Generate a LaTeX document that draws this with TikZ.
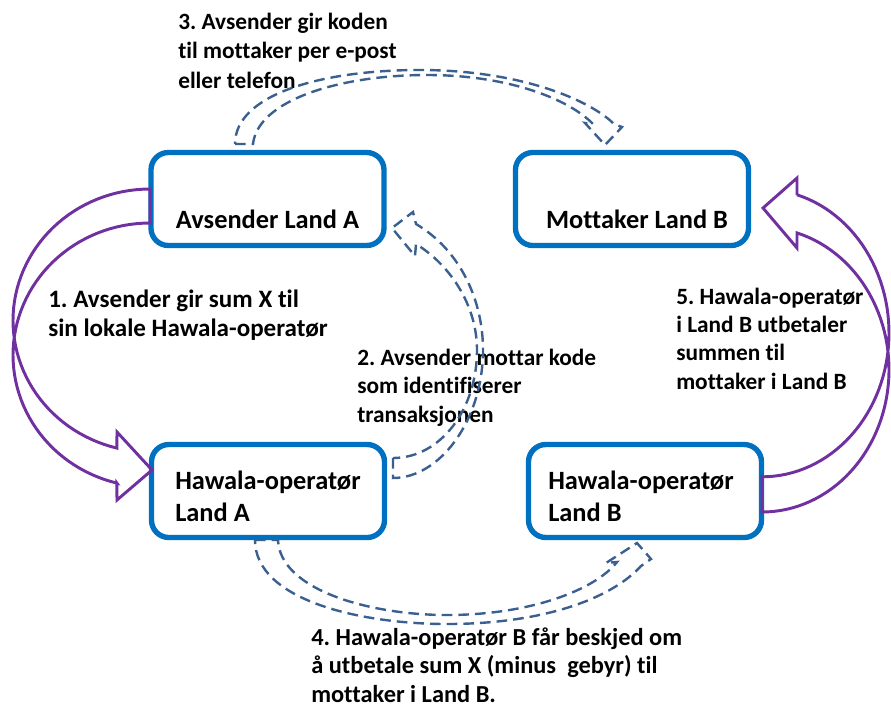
\documentclass[tikz,border=0pt]{standalone}
\usepackage{fontspec}
\setmainfont{Carlito}[Ligatures={NoCommon}]
\frenchspacing
\definecolor{boxblue}{HTML}{0070C0}
\definecolor{arrpurple}{HTML}{7030A0}
\definecolor{dashblue}{HTML}{3B6090}
\begin{document}
\begin{tikzpicture}[x=0.75pt,y=-0.75pt,
  box/.style={draw=boxblue,line width=4pt,rounded corners=13pt,minimum width=174.75pt,minimum height=69.75pt,inner sep=0pt},
  boxtext/.style={font=\fontsize{19.8}{24}\selectfont\bfseries,inner sep=0pt,align=left},
  lbl/.style={font=\fontsize{17.5}{21.2}\selectfont\bfseries,inner sep=0pt,align=left,anchor=base west},
  lblbig/.style={lbl,font=\fontsize{18.8}{21.2}\selectfont\bfseries},
  blockarrow/.style={draw=arrpurple,line width=2.2pt,line join=miter},
  dasharrow/.style={draw=dashblue,line width=1.8pt,dash pattern=on 8pt off 4.5pt,line join=miter}]
\useasboundingbox (0,0) rectangle (891,708);
% boxes
\node[box] (avs) at (267.5,199) {};
\node[box] (mot) at (632,199) {};
\node[box] (hawA) at (268,491) {};
\node[box] (hawB) at (645,491) {};
% box texts
\node[boxtext,anchor=base] (avsT) at (267.5,228) {Avsender Land A};
\node[boxtext,anchor=base] (motT) at (637,228) {Mottaker Land B};
\node[boxtext,anchor=base west] (hawAT) at (175,521) {Hawala-operatør\\Land A};
\node[boxtext,anchor=base west] (hawBT) at (548,521) {Hawala-operatør\\Land B};
% labels (anchor = baseline of last line)
\node[lbl,font=\fontsize{17.5}{21.8}\selectfont\bfseries] (l3) at (178,88) {3. Avsender gir koden\\til mottaker per e-post\\eller telefon};
\node[lblbig] (l1) at (48,336) {1. Avsender gir sum X til\\sin lokale Hawala-operatør};
\node[lbl] (l2) at (357,422) {2. Avsender mottar kode\\som identifiserer\\transaksjonen};
\node[lbl] (l5) at (676,389) {5. Hawala-operatør\\i Land B utbetaler\\summen til\\mottaker i Land B};
\node[lbl,font=\fontsize{18.3}{21.2}\selectfont\bfseries] (l4) at (311,702) {4. Hawala-operatør B får beskjed om\\å utbetale sum X (minus\ \ gebyr) til\\mottaker i Land B.};
% purple block arrows
\draw[blockarrow] (150,189) -- plot[domain=-90:-256,samples=60] ({150+137*cos(\x)},{320.5+131.5*sin(\x)})
  -- (117,432) -- (152,470) -- (117,500) -- (116.8,483)
  -- plot[domain=-256:-90,samples=60] ({150+137*cos(\x)},{355+132*sin(\x)}) -- cycle;
\draw[blockarrow] (762,512) -- plot[domain=90:-74,samples=60] ({762+127*cos(\x)},{369.7+142.3*sin(\x)})
  -- (797,248) -- (763,208) -- (797,178) -- (797,195)
  -- plot[domain=-74:90,samples=60] ({762+127*cos(\x)},{333+143.8*sin(\x)}) -- cycle;
% dashed block arrows
\draw[dasharrow] (235,144) -- (253,144)
  .. controls (258,100) and (340,75) .. (427,75)
  .. controls (510,75) and (570,100) .. (593,124)
  -- (585,123) -- (605,145) -- (622,127) -- (614,124)
  .. controls (590,100) and (520,70) .. (420,70)
  .. controls (320,70) and (235,95) .. (235,144) -- cycle;
\draw[dasharrow] (393,458) -- (393,478)
  .. controls (440,478) and (483,420) .. (483,350)
  .. controls (483,300) and (460,250) .. (416,224)
  -- (413,212) -- (392,228) -- (415,256) -- (416,244)
  .. controls (450,265) and (477,305) .. (477,350)
  .. controls (477,410) and (440,458) .. (393,458) -- cycle;
\draw[dasharrow] (255,540) -- (278,540)
  .. controls (280,590) and (370,615) .. (447,615)
  .. controls (530,615) and (595,590) .. (617,562)
  -- (606,563) -- (637,543) -- (651,559) -- (641,566)
  .. controls (610,600) and (540,624) .. (447,624)
  .. controls (360,624) and (255,600) .. (255,540) -- cycle;
\end{tikzpicture}
\end{document}
